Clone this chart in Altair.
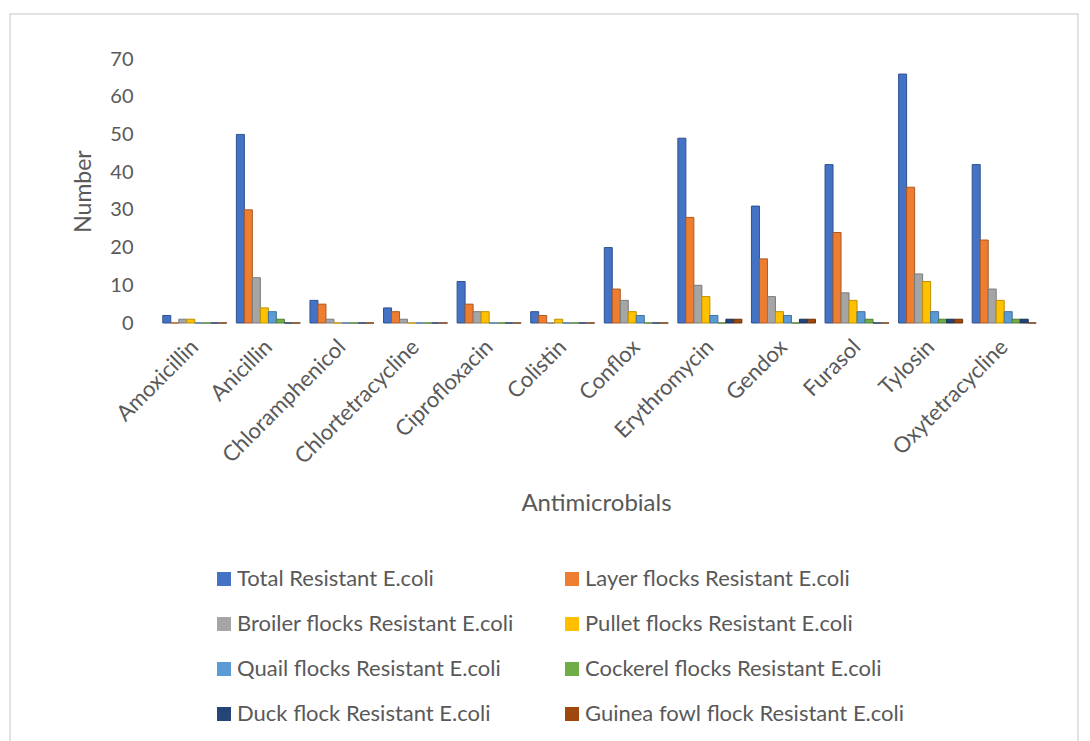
import altair as alt
import pandas as pd

categories = ["Amoxicillin", "Anicillin", "Chloramphenicol", "Chlortetracycline",
              "Ciprofloxacin", "Colistin", "Conflox", "Erythromycin", "Gendox",
              "Furasol", "Tylosin", "Oxytetracycline"]

series = ["Total Resistant E.coli", "Layer flocks Resistant E.coli",
          "Broiler flocks Resistant E.coli", "Pullet flocks Resistant E.coli",
          "Quail flocks Resistant E.coli", "Cockerel flocks Resistant E.coli",
          "Duck flock Resistant E.coli", "Guinea fowl flock Resistant E.coli"]

total = [2, 50, 6, 4, 11, 3, 20, 49, 31, 42, 66, 42]
layer = [0, 30, 5, 3, 5, 2, 9, 28, 17, 24, 36, 22]
broiler = [1, 12, 1, 1, 3, 0, 6, 10, 7, 8, 13, 9]
pullet = [1, 4, 0, 0, 3, 1, 3, 7, 3, 6, 11, 6]
quail = [0, 3, 0, 0, 0, 0, 2, 2, 2, 3, 3, 3]
cockerel = [0, 1, 0, 0, 0, 0, 0, 0, 0, 1, 1, 1]
duck = [0, 0, 0, 0, 0, 0, 0, 1, 1, 0, 1, 1]
guinea = [0, 0, 0, 0, 0, 0, 0, 1, 1, 0, 1, 0]

colors = ["#4472C4", "#ED7D31", "#A5A5A5", "#FFC000",
          "#5B9BD5", "#70AD47", "#264478", "#9E480E"]
dark = ["#2F528F", "#AE5A21", "#7B7B7B", "#BF9000",
        "#41719C", "#507E32", "#1A2F52", "#6E320A"]

values = [total, layer, broiler, pullet, quail, cockerel, duck, guinea]
rows = []
for s, vals in zip(series, values):
    for c, v in zip(categories, vals):
        rows.append({"Antimicrobial": c, "Series": s, "Number": v})
df = pd.DataFrame(rows)

FONT = "Lato"
TXT = "#595959"

PL, PT = 150, 51
W, H = 883, 264

bars = alt.Chart(df).mark_bar(strokeWidth=1).encode(
    x=alt.X("Antimicrobial:N", sort=categories,
            scale=alt.Scale(paddingInner=0.13, paddingOuter=0.065),
            axis=alt.Axis(title="Antimicrobials", labelAngle=-45, labelAlign="right",
                          labelBaseline="middle", labelPadding=20, domain=False,
                          ticks=False, labelFontSize=22, titleFontSize=24,
                          titleFontWeight="normal", titleX=438, titleY=180,
                          titleBaseline="middle", labelColor=TXT, titleColor=TXT)),
    xOffset=alt.XOffset("Series:N", sort=series, scale=alt.Scale(paddingInner=0)),
    y=alt.Y("Number:Q", scale=alt.Scale(domain=[0, 70], nice=False),
            axis=alt.Axis(title="Number", values=list(range(0, 71, 10)), grid=False,
                          domain=False, ticks=False, labelPadding=25, labelFontSize=20,
                          titleFontSize=23, titleFontWeight="normal", titleX=-75,
                          titleBaseline="middle", labelColor=TXT, titleColor=TXT)),
    color=alt.Color("Series:N", sort=series,
                    scale=alt.Scale(domain=series, range=colors),
                    legend=alt.Legend(title=None, orient="none", legendX=55, legendY=509,
                                      columns=2, columnPadding=47, rowPadding=23,
                                      symbolType="square", symbolSize=196,
                                      symbolStrokeWidth=0, labelFontSize=22,
                                      labelColor=TXT, labelLimit=400, symbolOffset=0,
                                      labelOffset=2, direction="horizontal")),
    stroke=alt.Stroke("Series:N", sort=series,
                      scale=alt.Scale(domain=series, range=dark), legend=None),
)

frame_df = pd.DataFrame({"k": [0]})
frame = alt.Chart(frame_df).mark_rect(fill="transparent", stroke="#D9D9D9",
                                      strokeWidth=1.5).encode(
    x=alt.value(10 - 8 - PL), x2=alt.value(1078 - 8 - PL),
    y=alt.value(14 - 8 - PT), y2=alt.value(800),
)

chart = alt.layer(frame, bars).properties(
    width=W, height=H,
    autosize=alt.AutoSizeParams(type="none"),
    padding={"left": PL, "top": PT, "right": 1072 - PL - W, "bottom": 733 - PT - H},
).configure(font=FONT).configure_view(strokeWidth=0)

chart.save("out.html", embed_options={"renderer": "svg", "actions": False})
